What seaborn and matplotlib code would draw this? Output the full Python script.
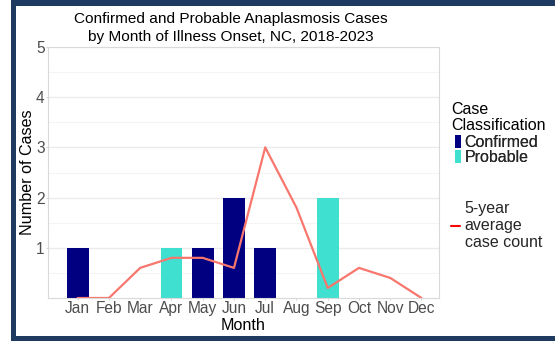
import numpy as np
import pandas as pd
import matplotlib
matplotlib.use("Agg")
import matplotlib.pyplot as plt
import seaborn as sns
from matplotlib.patches import Patch, Rectangle
from matplotlib.lines import Line2D

months = ["Jan", "Feb", "Mar", "Apr", "May", "Jun", "Jul", "Aug", "Sep", "Oct", "Nov", "Dec"]
confirmed = [1, 0, 0, 0, 1, 2, 1, 0, 0, 0, 0, 0]
probable = [0, 0, 0, 1, 0, 0, 0, 0, 2, 0, 0, 0]
avg5 = [0, 0, 0.6, 0.8, 0.8, 0.6, 3.0, 1.8, 0.2, 0.6, 0.4, 0]
y_ticks = [1, 2, 3, 4, 5]

NAVY = "#000080"
TURQ = "#40E0D0"
LINE = "#F8766D"
FRAME = "#1f3a60"

sns.set_theme(style="white")
plt.rcParams["font.family"] = ["Liberation Sans", "DejaVu Sans"]

W, H = 555, 341
fig = plt.figure(figsize=(W / 100, H / 100), dpi=100)
ax = fig.add_axes([48 / W, (H - 298) / H, 391 / W, 251 / H])

rows = []
for m, c, p in zip(months, confirmed, probable):
    if c > 0:
        rows.append({"Month": m, "Cases": c, "Class": "Confirmed"})
    if p > 0:
        rows.append({"Month": m, "Cases": p, "Class": "Probable"})
df = pd.DataFrame(rows)

sns.barplot(data=df, x="Month", y="Cases", hue="Class", order=months,
            hue_order=["Confirmed", "Probable"],
            palette={"Confirmed": NAVY, "Probable": TURQ},
            dodge=False, width=0.7, saturation=1, legend=False,
            linewidth=0, edgecolor="none", ax=ax)

line_df = pd.DataFrame({"pos": np.arange(len(months)), "avg": avg5})
sns.lineplot(data=line_df, x="pos", y="avg", color=LINE, linewidth=1.6, ax=ax)

ax.set_xlim(-0.95, 11.56)
ax.set_ylim(0, 5)
ax.set_xticks(np.arange(len(months)))
ax.set_xticklabels(months)
ax.set_yticks(y_ticks)
ax.set_yticks([0.5, 1.5, 2.5, 3.5, 4.5], minor=True)
ax.grid(axis="y", which="major", color="#ebebeb", linewidth=1.0)
ax.grid(axis="y", which="minor", color="#f4f4f4", linewidth=0.8)
ax.grid(axis="x", visible=False)
ax.set_axisbelow(True)
for s in ax.spines.values():
    s.set_visible(True)
    s.set_color("#d9d9d9")
    s.set_linewidth(0.8)
ax.tick_params(axis="both", which="major", length=1.6, width=0.6, color="#cccccc",
               labelsize=11.2, labelcolor="#4d4d4d", pad=0.8, bottom=True, left=True)
ax.tick_params(axis="y", which="minor", length=0)
ax.set_xlabel("Month", fontsize=11.6, color="black")
ax.set_ylabel("Number of Cases", fontsize=11.6, color="black")
ax.xaxis.set_label_coords(0.5, (298 - 318) / 251)
ax.yaxis.set_label_coords((35 - 48) / 391, 0.5)

fig.text(231 / W, 1 - 28 / H, "Confirmed and Probable Anaplasmosis Cases\nby Month of Illness Onset, NC, 2018-2023",
         ha="center", va="center", fontsize=11.1, linespacing=1.42, color="black")

fig.text(451 / W, 1 - 117.5 / H, "Case\nClassification", ha="left", va="center",
         fontsize=11.5, linespacing=1.15, color="black")
h1 = [Patch(facecolor=NAVY, edgecolor="none"), Patch(facecolor=TURQ, edgecolor="none")]
leg1 = fig.legend(h1, ["Confirmed", "Probable"],
                  loc="upper left", bbox_to_anchor=(455 / W, 1 - 135 / H),
                  frameon=False, fontsize=11.5,
                  handlelength=0.38, handleheight=0.9, handletextpad=0.22,
                  labelspacing=0.0, borderaxespad=0, borderpad=0)
h2 = [Line2D([0], [0], color="red", linewidth=1.5)]
leg2 = fig.legend(h2, ["5-year\naverage\ncase count"], loc="upper left",
                  bbox_to_anchor=(451 / W, 1 - 200.5 / H), frameon=False, fontsize=11.5,
                  handlelength=0.55, handletextpad=0.3, borderaxespad=0, borderpad=0)
for t in leg2.get_texts():
    t.set_linespacing(1.2)
fig.add_artist(leg1)

# outer frame
fig.add_artist(Rectangle((11 / W, 1 - 6 / H), 1 - 11 / W, 6 / H, transform=fig.transFigure,
                         facecolor=FRAME, edgecolor="none"))
fig.add_artist(Rectangle((11 / W, 0), 5 / W, 1, transform=fig.transFigure,
                         facecolor=FRAME, edgecolor="none"))
fig.add_artist(Rectangle((11 / W, 0), 1 - 11 / W, 5 / H, transform=fig.transFigure,
                         facecolor=FRAME, edgecolor="none"))

fig.savefig("out.png", dpi=100)
